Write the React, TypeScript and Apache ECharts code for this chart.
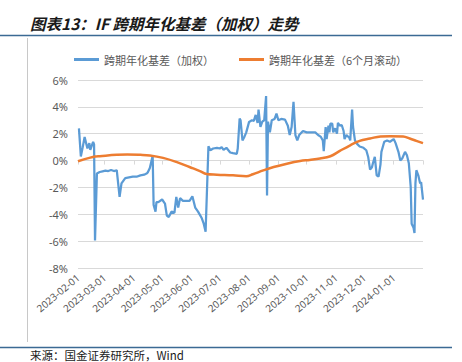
import React, { useEffect, useRef } from "react";
import * as echarts from "echarts";

const START_DATE = "2023-02-01";
const END_DATE = "2024-02-01";

const Y_MIN = -8;
const Y_MAX = 6;
const Y_STEP = 2;

const TITLE = "图表13：IF 跨期年化基差（加权）走势";
const SOURCE = "来源：国金证券研究所，Wind";
const SERIES_NAMES = ["跨期年化基差（加权）", "跨期年化基差（6个月滚动）"];

const weightedDates = [
  "2023-02-02", "2023-02-04", "2023-02-06", "2023-02-08", "2023-02-11", "2023-02-13", "2023-02-14", "2023-02-17",
  "2023-02-18", "2023-02-19", "2023-02-21", "2023-02-24", "2023-02-27", "2023-03-02", "2023-03-05", "2023-03-08",
  "2023-03-11", "2023-03-14", "2023-03-17", "2023-03-19", "2023-03-23", "2023-03-27", "2023-03-31", "2023-04-04",
  "2023-04-08", "2023-04-12", "2023-04-15", "2023-04-16", "2023-04-18", "2023-04-21", "2023-04-22", "2023-04-24",
  "2023-04-25", "2023-04-27", "2023-05-01", "2023-05-04", "2023-05-06", "2023-05-08", "2023-05-11", "2023-05-14",
  "2023-05-16", "2023-05-18", "2023-05-20", "2023-05-23", "2023-05-27", "2023-05-30", "2023-06-02", "2023-06-05",
  "2023-06-08", "2023-06-12", "2023-06-14", "2023-06-16", "2023-06-19", "2023-06-21", "2023-06-24", "2023-06-28",
  "2023-07-01", "2023-07-03", "2023-07-05", "2023-07-08", "2023-07-12", "2023-07-15", "2023-07-19", "2023-07-20",
  "2023-07-22", "2023-07-23", "2023-07-25", "2023-07-27", "2023-07-29", "2023-08-01", "2023-08-04", "2023-08-06",
  "2023-08-08", "2023-08-10", "2023-08-11", "2023-08-13", "2023-08-15", "2023-08-17", "2023-08-19", "2023-08-20",
  "2023-08-21", "2023-08-23", "2023-08-25", "2023-08-28", "2023-08-30", "2023-09-01", "2023-09-04", "2023-09-08",
  "2023-09-11", "2023-09-13", "2023-09-15", "2023-09-17", "2023-09-19", "2023-09-21", "2023-09-23", "2023-09-27",
  "2023-10-01", "2023-10-04", "2023-10-10", "2023-10-13", "2023-10-16", "2023-10-18", "2023-10-19", "2023-10-21",
  "2023-10-22", "2023-10-24", "2023-10-25", "2023-10-26", "2023-10-28", "2023-10-29", "2023-10-31", "2023-11-02",
  "2023-11-03", "2023-11-05", "2023-11-07", "2023-11-09", "2023-11-10", "2023-11-12", "2023-11-15", "2023-11-16",
  "2023-11-18", "2023-11-19", "2023-11-21", "2023-11-23", "2023-11-26", "2023-11-30", "2023-12-03", "2023-12-05",
  "2023-12-07", "2023-12-09", "2023-12-10", "2023-12-12", "2023-12-14", "2023-12-16", "2023-12-18", "2023-12-19",
  "2023-12-22", "2023-12-25", "2023-12-28", "2024-01-01", "2024-01-03", "2024-01-06", "2024-01-08", "2024-01-10",
  "2024-01-13", "2024-01-15", "2024-01-17", "2024-01-19", "2024-01-20", "2024-01-22", "2024-01-23", "2024-01-24",
  "2024-01-25", "2024-01-27", "2024-01-29", "2024-01-30", "2024-02-01",
];

const weightedValues = [
  2.4, 0.3, 1.0, 1.76, 0.9, 1.3, 0.8, 1.4,
  1.2, -5.95, -0.97, -0.85, -0.8, -0.75, -0.78, -0.7,
  -0.78, -0.72, -2.7, -1.7, -1.3, -1.25, -1.2, -1.2,
  -1.1, -1.05, -0.95, -0.85, -0.55, 0.35, -3.3, -3.8,
  -3.1, -3.1, -2.9, -3.2, -4.1, -4.2, -3.8, -3.9,
  -2.7, -3.5, -2.8, -3.0, -3.0, -3.0, -2.66, -3.5,
  -3.8, -4.3, -4.7, -5.3, 1.07, 0.77, 0.9, 0.95,
  0.9, 1.0, 0.8, 0.95, 0.6, 0.55, 0.5, 0.9,
  3.13, 3.0, 1.5, 1.76, 2.1, 2.88, 3.0, 2.95,
  3.4, 2.8, 3.8, 2.5, 2.9, 3.0, 4.8, -2.6,
  2.9, 2.1, 3.0, 3.1, 3.5, 3.0, 3.1, 3.05,
  2.6, 1.9, 2.5, 4.37, 1.9, 1.5, 1.9, 2.2,
  2.1, 2.1, 2.1, 1.9, 1.76, 1.5, 0.7, 2.5,
  1.6, 2.6, 2.1, 2.75, 2.75, 2.1, 2.4, 2.0,
  2.8, 2.6, 2.65, 2.2, 1.6, 1.9, 1.7, 1.5,
  3.8, 2.5, 1.5, 1.26, 1.05, 0.95, 0.77, 0.27,
  -0.67, -0.5, -0.2, 0.27, -1.1, -1.2, -0.3, 0.65,
  1.4, 1.5, 1.4, 1.6, 1.3, 0.65, 0.0, 0.15,
  0.65, 0.4, -0.2, -1.97, -4.7, -5.0, -5.4, -1.7,
  -0.72, -1.1, -1.7, -1.6, -2.9,
];

const rollingDates = [
  "2023-02-01", "2023-02-14", "2023-02-19", "2023-02-24", "2023-03-14", "2023-03-25", "2023-04-08", "2023-04-18",
  "2023-05-02", "2023-05-16", "2023-05-30", "2023-06-10", "2023-06-17", "2023-06-28", "2023-07-15", "2023-07-29",
  "2023-08-05", "2023-08-16", "2023-08-27", "2023-09-10", "2023-09-24", "2023-10-04", "2023-10-15", "2023-10-26",
  "2023-11-05", "2023-11-16", "2023-11-26", "2023-12-07", "2023-12-18", "2023-12-28", "2024-01-11", "2024-01-18",
  "2024-01-25", "2024-02-01",
];

const rollingValues = [
  -0.05, 0.22, 0.3, 0.33, 0.43, 0.46, 0.43, 0.38,
  0.2, -0.1, -0.48, -0.78, -1.0, -1.05, -1.1, -1.17,
  -1.02, -0.73, -0.48, -0.23, -0.03, 0.05, 0.15, 0.32,
  0.72, 1.14, 1.47, 1.64, 1.8, 1.82, 1.8, 1.64,
  1.47, 1.3,
];

const DAY = 86400000;
const toUtc = (s: string) => {
  const [y, m, d] = s.split("-").map(Number);
  return Date.UTC(y, m - 1, d);
};
const pad = (n: number) => (n < 10 ? "0" + n : "" + n);
const fmt = (t: number) => {
  const d = new Date(t);
  return `${d.getUTCFullYear()}-${pad(d.getUTCMonth() + 1)}-${pad(d.getUTCDate())}`;
};

const startT = toUtc(START_DATE);
const endT = toUtc(END_DATE);
const calendarDays: string[] = [];
for (let t = startT; t <= endT; t += DAY) calendarDays.push(fmt(t));
const idx = (s: string) => Math.round((toUtc(s) - startT) / DAY);

const isMonthStart = (v: string) => v.endsWith("-01");

export default function App() {
  const ref = useRef<HTMLDivElement>(null);

  useEffect(() => {
    if (!ref.current) return;
    const chart = echarts.init(ref.current, undefined, { renderer: "svg" });
    const axisFont = '"Noto Sans", "Noto Sans CJK SC", sans-serif';
    chart.setOption({
      animation: false,
      backgroundColor: "#ffffff",
      grid: { left: 78, right: 39, top: 80, bottom: 94, containLabel: false },
      legend: {
        left: 69,
        top: 49,
        itemWidth: 25,
        itemHeight: 3,
        itemGap: 25,
        icon: "rect",
        textStyle: { fontSize: 11, color: "#595959", fontFamily: '"Noto Sans CJK SC", sans-serif' },
        data: SERIES_NAMES,
      },
      xAxis: [
        {
          type: "category",
          data: calendarDays,
          boundaryGap: false,
          position: "bottom",
          axisLine: { show: true, onZero: true, lineStyle: { color: "#d9d9d9", width: 1 } },
          axisTick: {
            show: true,
            interval: (_i: number, v: string) => isMonthStart(v),
            length: 4,
            lineStyle: { color: "#d9d9d9" },
          },
          axisLabel: { show: false },
          splitLine: { show: false },
        },
        {
          type: "category",
          data: calendarDays,
          boundaryGap: false,
          position: "bottom",
          axisLine: { show: false, onZero: false },
          axisTick: { show: false },
          axisLabel: {
            show: true,
            interval: (_i: number, v: string) => isMonthStart(v) && v !== END_DATE,
            rotate: 40,
            margin: 8,
            fontSize: 10,
            color: "#595959",
            fontFamily: axisFont,
          },
          splitLine: { show: false },
        },
      ],
      yAxis: {
        type: "value",
        min: Y_MIN,
        max: Y_MAX,
        interval: Y_STEP,
        axisLine: { show: false },
        axisTick: { show: false },
        axisLabel: {
          formatter: (v: number) => `${v}%`,
          fontSize: 11,
          color: "#595959",
          margin: 10,
          fontFamily: axisFont,
        },
        splitLine: { lineStyle: { color: "#d9d9d9", width: 1 } },
      },
      series: [
        {
          name: SERIES_NAMES[0],
          type: "line",
          xAxisIndex: 0,
          data: weightedDates.map((d, i) => [idx(d), weightedValues[i]]),
          showSymbol: false,
          symbol: "none",
          lineStyle: { color: "#5B9BD5", width: 2.25 },
          itemStyle: { color: "#5B9BD5" },
          z: 2,
        },
        {
          name: SERIES_NAMES[1],
          type: "line",
          xAxisIndex: 0,
          data: rollingDates.map((d, i) => [idx(d), rollingValues[i]]),
          showSymbol: false,
          symbol: "none",
          smooth: 0.4,
          lineStyle: { color: "#ED7D31", width: 2.5 },
          itemStyle: { color: "#ED7D31" },
          z: 3,
        },
      ],
      graphic: [
        {
          type: "text",
          x: 30,
          y: 23,
          style: {
            text: TITLE,
            font: 'italic bold 15.5px "Noto Sans CJK SC", sans-serif',
            fill: "#1a1a1a",
            verticalAlign: "middle",
          },
        },
        {
          type: "line",
          shape: { x1: 0, y1: 35.5, x2: 452, y2: 35.5 },
          style: { stroke: "#3b6a94", lineWidth: 1.5 },
        },
        {
          type: "line",
          shape: { x1: 27.5, y1: 38, x2: 27.5, y2: 342 },
          style: { stroke: "#c8c8c8", lineWidth: 1 },
        },
        {
          type: "line",
          shape: { x1: 0, y1: 347.5, x2: 452, y2: 347.5 },
          style: { stroke: "#3b6a94", lineWidth: 1.5 },
        },
        {
          type: "text",
          x: 30,
          y: 354.5,
          style: {
            text: SOURCE,
            font: '11.5px "Noto Sans CJK SC", sans-serif',
            fill: "#1a1a1a",
            verticalAlign: "middle",
          },
        },
      ],
    });
    return () => chart.dispose();
  }, []);

  return (
    <div
      ref={ref}
      style={{ position: "fixed", left: 0, top: 0, width: 462, height: 362, background: "#fff" }}
    />
  );
}
